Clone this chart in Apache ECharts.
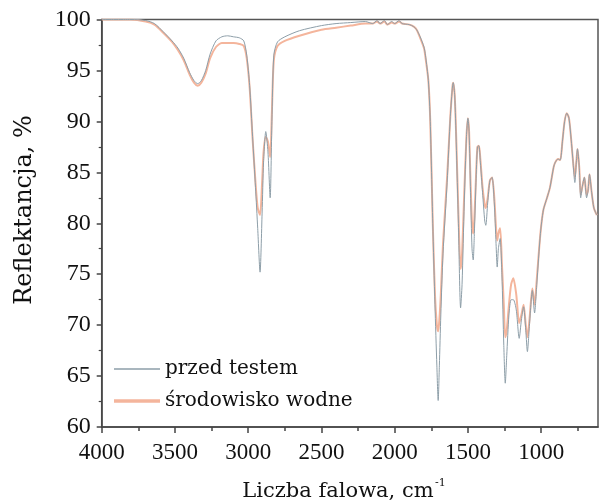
<!DOCTYPE html>
<html>
<head>
<meta charset="utf-8">
<script src="https://cdn.jsdelivr.net/npm/echarts@6/dist/echarts.min.js"></script>
<style>html,body{margin:0;padding:0;background:#fff}#c{width:600px;height:504px}</style>
</head>
<body>
<div id="c"></div>
<script>
// Wavenumbers (cm^-1) shared by both curves
const wavenumbersA = [4000,3800,3700,3640,3580,3520,3480,3440,3400,3370,3345,3320,3290,3260,3220,3180,3140,3100,3060,3030,3010,2990,2970,2950,2935,2919,2905,2895,2880,2865,2850,2838,2825,2800,2750,2650,2500,2400,2300,2200,2150,2120,2100,2070,2050,2020,2000,1970,1950,1900,1870,1850,1826,1800,1790,1770,1757,1740,1725,1712,1703,1695,1685,1670,1642,1620,1605,1600,1590,1580,1565,1550,1540,1525,1510,1500,1492,1482,1472,1464,1456,1445,1435,1425,1415,1400,1385,1378,1365,1350,1335,1320,1308,1300,1292,1280,1268,1255,1245,1235,1220,1205,1190,1170,1150,1135,1120,1105,1094,1080,1060,1045,1030,1005,985,960,940,915,903,885,870,855,840,825,810,795,785,770,760,752,740,730,720,705,690,680,670,655,640,620];
const przedTestem = [100,100,99.9,99.6,98.8,97.9,97.2,96.2,94.8,94.0,93.7,94.0,95.0,96.6,97.9,98.3,98.4,98.3,98.2,97.9,96.5,93.5,88.5,83.5,79.5,75.2,81,86,89,87,82.5,90,96.5,97.8,98.3,98.9,99.4,99.6,99.7,99.8,99.6,99.9,99.6,99.9,99.5,99.8,99.6,99.9,99.6,99.5,99.3,99.0,98.3,97.3,96.5,94,90,80,72,66,62.6,66,71,77,84,90.5,93.5,93.8,92.5,88,80,71.7,74,82,88.5,90.3,89,83,77.5,76.4,79,84,87.5,87.6,86,83,80.2,79.8,82,84.2,84.5,82,78,75.7,77.5,78.5,75,68,64.3,67,71,72.5,72.5,71.5,68.7,70.5,71.8,69.5,67.4,70,73.4,71.2,74,79,81.3,82.5,83.5,85.5,86,86.3,86.2,88,90,90.8,90.3,88.2,86.5,84,86,87.3,85.5,82.5,83.5,84.5,82.5,83.2,84.8,83,81.5,80.8];
const srodowiskoWodne = [100,100,99.8,99.5,98.7,97.8,97.0,96.0,94.6,93.8,93.5,93.8,94.7,96.2,97.3,97.7,97.7,97.7,97.6,97.4,96.2,93.3,88.3,84,81.5,80.8,84,87,88.5,88,86.5,91,96,97.4,97.9,98.4,99.0,99.2,99.4,99.6,99.6,99.8,99.6,99.8,99.5,99.7,99.6,99.8,99.6,99.5,99.3,99.0,98.2,97.2,96.3,94,90,80,73,70,69.4,70.5,73,78,84.5,90.5,93.5,93.8,92.5,88.5,81,75.5,77,83,88.5,90.3,89,84,80,79,80.5,84.5,87.5,87.6,86.3,83.5,81.8,81.5,82.5,84.2,84.5,82.5,79.5,78.3,79,79.5,76,72,68.8,69.5,72,74,74.6,73,70.2,71,72,70,68.8,70.5,73.6,72,74.5,79,81.3,82.5,83.5,85.5,86,86.3,86.2,88,90,90.8,90.3,88.2,86.5,84.5,86,87.3,85.5,82.8,83.5,84.5,82.8,83.2,84.8,83,81.5,80.8];
const seriesNames = ['przed testem', 'środowisko wodne'];
const xLabelValues = [4000,3500,3000,2500,2000,1500,1000];
const xMinorTickValues = [3750,3250,2750,2250,1750,1250,750];
const xTitle = 'Liczba falowa, cm';
const xTitleSup = '-1';
const yTitle = 'Reflektancja, %';

const FONT = 'DejaVu Serif';
const NUMFONT = 'Liberation Serif';
const GRAY = '#8d9ea8', ORANGE = '#f4b59c';
const chart = echarts.init(document.getElementById('c'));
const pairs = (ys) => wavenumbersA.map((w, i) => [w, ys[i]]);
const xMin = 612, xMax = 4000;
const legendBase = { orient: 'vertical', left: 114, padding: 0, itemWidth: 46, itemGap: 5, icon: 'rect',
  textStyle: { fontFamily: FONT, fontSize: 20, color: '#111' } };
chart.setOption({
  animation: false,
  backgroundColor: '#fff',
  grid: { left: 101.7, right: 2, top: 19.5, bottom: 77, show: true, borderColor: '#555', borderWidth: 1.5 },
  legend: [
    Object.assign({}, legendBase, { top: 359, itemHeight: 1.5, data: [seriesNames[0]] }),
    Object.assign({}, legendBase, { top: 391, itemHeight: 3.5, data: [seriesNames[1]] })
  ],
  xAxis: [{
    type: 'value', inverse: true, min: xMin, max: xMax,
    axisLine: { show: true, onZero: false, lineStyle: { color: '#444', width: 1.5 } },
    axisTick: { show: true, length: 6, customValues: xLabelValues, lineStyle: { color: '#444', width: 1.5 } },
    axisLabel: { customValues: xLabelValues, formatter: (v) => String(v), fontFamily: NUMFONT, fontSize: 23, color: '#111', margin: 14 },
    splitLine: { show: false }
  }, {
    type: 'value', inverse: true, min: xMin, max: xMax, position: 'bottom',
    axisLine: { show: false },
    axisTick: { show: true, length: 4, customValues: xMinorTickValues, lineStyle: { color: '#444', width: 1.5 } },
    axisLabel: { show: false },
    splitLine: { show: false }
  }],
  yAxis: {
    type: 'value', min: 60, max: 100, interval: 5,
    axisLine: { show: true, lineStyle: { color: '#444', width: 1.5 } },
    axisTick: { show: true, length: 5, lineStyle: { color: '#444', width: 1.5 } },
    minorTick: { show: true, splitNumber: 2, length: 3, lineStyle: { color: '#444', width: 1.2 } },
    axisLabel: { fontFamily: NUMFONT, fontSize: 24, color: '#111', margin: 11 },
    splitLine: { show: false }
  },
  series: [{
    name: seriesNames[1], type: 'line', xAxisIndex: 0, data: pairs(srodowiskoWodne),
    symbol: 'none', smooth: 0.25, lineStyle: { color: ORANGE, width: 2 }, itemStyle: { color: ORANGE }
  }, {
    name: seriesNames[0], type: 'line', xAxisIndex: 0, data: pairs(przedTestem),
    symbol: 'none', smooth: 0.25, lineStyle: { color: GRAY, width: 1 }, itemStyle: { color: GRAY }
  }],
  graphic: [{
    type: 'text', x: 338, y: 492,
    style: { text: xTitle, fontFamily: FONT, fontSize: 21, fill: '#111', align: 'center', verticalAlign: 'middle' }
  }, {
    type: 'text', x: 435, y: 483,
    style: { text: xTitleSup, fontFamily: FONT, fontSize: 11, fill: '#111', align: 'left', verticalAlign: 'middle' }
  }, {
    type: 'text', x: 25, y: 210, rotation: Math.PI / 2,
    style: { text: yTitle, fontFamily: FONT, fontSize: 24, fill: '#111', align: 'center', verticalAlign: 'middle' }
  }]
});
</script>
</body>
</html>
